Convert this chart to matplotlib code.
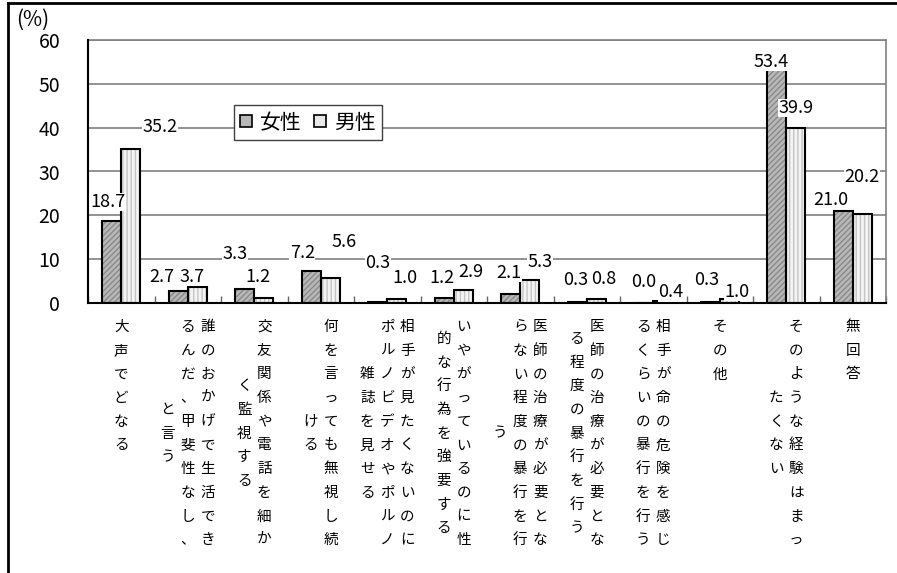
import matplotlib
matplotlib.use("Agg")
import matplotlib.pyplot as plt
from matplotlib.patches import Patch
from matplotlib.lines import Line2D

plt.rcParams['font.family'] = ['Noto Sans CJK JP', 'DejaVu Sans']

# 回答項目 (縦書き、右の列から順に)
categories = [
    ["大声でどなる"],
    ["誰のおかげで生活でき", "るんだ、甲斐性なし、", "と言う"],
    ["交友関係や電話を細か", "く監視する"],
    ["何を言っても無視し続", "ける"],
    ["相手が見たくないのに", "ポルノビデオやポルノ", "雑誌を見せる"],
    ["いやがっているのに性", "的な行為を強要する"],
    ["医師の治療が必要とな", "らない程度の暴行を行", "う"],
    ["医師の治療が必要とな", "る程度の暴行を行う"],
    ["相手が命の危険を感じ", "るくらいの暴行を行う"],
    ["その他"],
    ["そのような経験はまっ", "たくない"],
    ["無回答"],
]
series_names = ["女性", "男性"]
female = [18.7, 2.7, 3.3, 7.2, 0.3, 1.2, 2.1, 0.3, 0.0, 0.3, 53.4, 21.0]
male = [35.2, 3.7, 1.2, 5.6, 1.0, 2.9, 5.3, 0.8, 0.4, 1.0, 39.9, 20.2]
yticks = [0, 10, 20, 30, 40, 50, 60]

# ラベル位置のずれ (ピクセル)
female_off = [(-4, 19), (-16, 14), (-10, 35), (-9, 18), (0, 39), (-2, 20),
              (-2, 21), (-2, 22), (0, 21), (-4, 22), (-6, 7), (-12, 11)]
male_off = [(29, 22), (-5, 10), (-6, 21), (14, 36), (8, 21), (8, 18),
            (10, 18), (7, 20), (8, 9), (8, 7), (0, 20), (0, 37)]

fig = plt.figure(figsize=(8.97, 5.73), dpi=100)
ax = fig.add_axes([88/897, 1-303/573, 798/897, 263/573])

n = len(categories)
x = [i + 0.5 for i in range(n)]
w = 0.286
xf = [v - w/2 for v in x]
xm = [v + w/2 for v in x]

f_face, f_hatch = '#b8b8b8', '#8a8a8a'
m_face, m_hatch = '#f4f4f4', '#c4c4c4'

ax.bar(xf, female, w, color=f_face, edgecolor=f_hatch, hatch='//////', lw=0, zorder=2)
ax.bar(xf, female, w, fill=False, edgecolor='black', lw=1.5, zorder=3)
ax.bar(xm, male, w, color=m_face, edgecolor=m_hatch, hatch='||||', lw=0, zorder=2)
ax.bar(xm, male, w, fill=False, edgecolor='black', lw=1.5, zorder=3)

box = dict(facecolor='white', edgecolor='none', pad=0.2)
for i in range(n):
    ax.annotate(f"{female[i]:.1f}", (xf[i], female[i]), xytext=female_off[i],
                textcoords='offset pixels', ha='center', va='center',
                fontsize=13, bbox=box, zorder=5)
    ax.annotate(f"{male[i]:.1f}", (xm[i], male[i]), xytext=male_off[i],
                textcoords='offset pixels', ha='center', va='center',
                fontsize=13, bbox=box, zorder=5)

ax.set_xlim(0, n)
ax.set_ylim(0, 60)
ax.set_yticks(yticks)
ax.set_yticklabels([str(t) for t in yticks], fontsize=14)
ax.tick_params(axis='y', length=0, pad=20)
ax.set_xticks(range(n + 1))
ax.set_xticklabels([])
ax.tick_params(axis='x', direction='in', length=5, width=1, color='#666666')
ax.grid(axis='y', color='#808080', lw=1.2, zorder=1)
ax.set_axisbelow(True)
for s in ['top', 'right']:
    ax.spines[s].set_color('#808080')
    ax.spines[s].set_linewidth(1.2)
for s in ['left', 'bottom']:
    ax.spines[s].set_color('black')
    ax.spines[s].set_linewidth(1.5)
    ax.spines[s].set_zorder(4)

# 縦書きの項目名
xt = ax.get_xaxis_transform()
for i, cols in enumerate(categories):
    maxlen = max(len(c) for c in cols)
    nc = len(cols)
    for j, col in enumerate(cols):
        dx = ((nc - 1) / 2 - j) * 20
        off = (maxlen - len(col)) / 2
        for k, ch in enumerate(col):
            dy = 24 + (off + k) * 23.7
            ax.annotate(ch, (x[i], 0), xycoords=xt, xytext=(dx, -dy),
                        textcoords='offset pixels', ha='center', va='center',
                        fontsize=10.5, annotation_clip=False)

handles = [Patch(facecolor=f_face, edgecolor='black', lw=1.2),
           Patch(facecolor='#e8e8e8', edgecolor='black', lw=1.2)]
leg = ax.legend(handles, series_names, ncol=2, loc='center',
                bbox_to_anchor=(0.2757, 0.686), fontsize=15, frameon=True,
                fancybox=False, framealpha=1, edgecolor='#404040',
                handlelength=0.55, handleheight=0.55, handletextpad=0.4,
                columnspacing=0.6, borderpad=0.3)
leg.get_frame().set_linewidth(1)
leg.set_zorder(6)

fig.text(33/897, 1-20/573, "(%)", ha='center', va='center', fontsize=15)

fig.add_artist(Line2D([8/897, 8/897], [0, 1-3/573], transform=fig.transFigure,
                      color='black', lw=2))
fig.add_artist(Line2D([8/897, 1], [1-3/573, 1-3/573], transform=fig.transFigure,
                      color='black', lw=2))

fig.savefig("out.png", dpi=100)
